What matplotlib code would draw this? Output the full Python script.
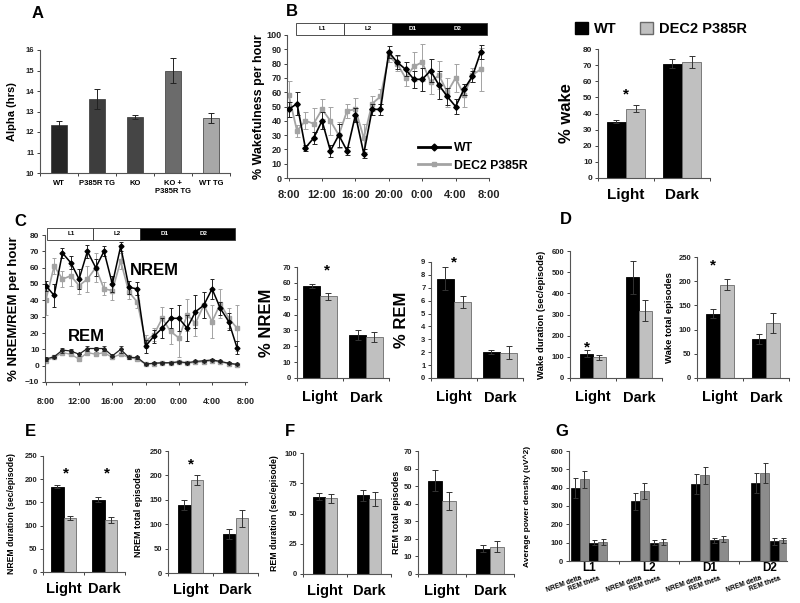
import numpy as np
import matplotlib
matplotlib.use('Agg')
import matplotlib.pyplot as plt
import matplotlib.transforms as mtransforms
from matplotlib.patches import Rectangle, Patch
from matplotlib.lines import Line2D

plt.rcParams['font.family'] = ['Liberation Sans', 'DejaVu Sans']
plt.rcParams['font.weight'] = 'bold'
plt.rcParams['axes.labelweight'] = 'bold'

# ---------------- data ----------------
genotypes = ['WT', 'P385R TG', 'KO', 'KO +\nP385R TG', 'WT TG']
alpha_hrs = [12.35, 13.6, 12.75, 15.0, 12.7]
alpha_err = [0.2, 0.5, 0.1, 0.6, 0.25]

hours = np.arange(24)
time_labels = ['8:00', '12:00', '16:00', '20:00', '0:00', '4:00', '8:00']
periods = ['Light', 'Dark']

wake_wt = [48, 52, 21, 28, 40, 19, 30, 19, 44, 17, 48, 48, 88, 81, 76, 69, 69, 75, 65, 57, 50, 62, 71, 88]
wake_wt_err = [5, 8, 2, 4, 6, 4, 8, 3, 5, 3, 4, 4, 4, 5, 5, 6, 8, 8, 10, 6, 5, 4, 4, 5]
wake_dec = [58, 33, 40, 38, 48, 40, 30, 47, 48, 28, 52, 57, 85, 80, 70, 78, 81, 67, 72, 60, 70, 58, 72, 76]
wake_dec_err = [10, 4, 6, 11, 7, 10, 9, 5, 8, 10, 5, 5, 4, 5, 6, 10, 13, 8, 10, 10, 10, 8, 5, 15]

nrem_wt = [49, 43, 69, 63, 53, 70, 60, 70, 50, 73, 48, 47, 12, 18, 23, 29, 29, 23, 33, 37, 47, 35, 27, 11]
nrem_wt_err = [3, 7, 3, 4, 6, 4, 5, 3, 5, 3, 4, 4, 4, 4, 6, 6, 8, 8, 10, 8, 6, 4, 5, 4]
nrem_dec = [40, 61, 53, 55, 49, 53, 60, 47, 46, 64, 45, 39, 15, 19, 29, 21, 17, 31, 26, 37, 27, 38, 29, 23]
nrem_dec_err = [9, 5, 5, 6, 5, 8, 9, 4, 6, 5, 4, 4, 4, 4, 7, 8, 12, 10, 8, 8, 10, 9, 6, 14]
rem_wt = [4, 5.5, 9.5, 9, 7, 10.5, 10.5, 10.5, 6, 10, 5, 5, 1, 1.5, 1.8, 1.8, 2.4, 1.8, 2.6, 3, 3.5, 2.6, 1.5, 0.8]
rem_wt_err = [1, 1, 1.5, 1, 1, 1.5, 1, 1.5, 1, 2, 1, 1, 0.5, 0.5, 0.5, 0.5, 0.5, 0.5, 0.5, 0.5, 0.5, 0.5, 0.5, 0.5]
rem_dec = [3, 5, 8, 7, 4, 8, 7, 8, 5, 7, 5, 4, 1, 1.3, 1.5, 1.6, 2, 1.5, 2, 2.5, 3, 2.2, 1.3, 0.6]
rem_dec_err = [1, 1, 1, 1, 1, 1, 1, 1, 1, 1, 1, 1, 0.5, 0.5, 0.5, 0.5, 0.5, 0.5, 0.5, 0.5, 0.5, 0.5, 0.5, 0.5]

pct_wake_wt, pct_wake_wt_err = [35, 71], [1, 3]
pct_wake_dec, pct_wake_dec_err = [43, 72], [2, 3.5]
pct_nrem_wt, pct_nrem_wt_err = [58, 27], [1, 3]
pct_nrem_dec, pct_nrem_dec_err = [51.5, 26], [2, 3]
pct_rem_wt, pct_rem_wt_err = [7.7, 2.0], [0.9, 0.15]
pct_rem_dec, pct_rem_dec_err = [5.9, 1.95], [0.5, 0.5]

wake_dur_wt, wake_dur_wt_err = [115, 475], [15, 80]
wake_dur_dec, wake_dur_dec_err = [97, 318], [10, 50]
wake_ep_wt, wake_ep_wt_err = [133, 80], [10, 10]
wake_ep_dec, wake_ep_dec_err = [193, 114], [12, 20]

nrem_dur_wt, nrem_dur_wt_err = [184, 156], [4, 6]
nrem_dur_dec, nrem_dur_dec_err = [117, 112], [4, 6]
nrem_ep_wt, nrem_ep_wt_err = [139, 80], [10, 11]
nrem_ep_dec, nrem_ep_dec_err = [190, 112], [10, 18]

rem_dur_wt, rem_dur_wt_err = [64, 65], [3, 4.5]
rem_dur_dec, rem_dur_dec_err = [62.5, 62], [3.5, 5.5]
rem_ep_wt, rem_ep_wt_err = [53, 14.5], [6, 2]
rem_ep_dec, rem_ep_dec_err = [41.5, 15.5], [5, 3]

phases = ['L1', 'L2', 'D1', 'D2']
delta_wt, delta_wt_err = [400, 325, 418, 427], [55, 45, 55, 55]
delta_dec, delta_dec_err = [445, 383, 467, 482], [45, 45, 45, 55]
theta_wt, theta_wt_err = [100, 100, 112, 108], [15, 15, 15, 18]
theta_dec, theta_dec_err = [103, 105, 120, 112], [15, 15, 18, 15]

# ---------------- style ----------------
W, H = 800, 603
GRAY = '#c0c0c0'
LGRAY = '#a3a3a3'
AXC = '#555555'

fig = plt.figure(figsize=(W / 100, H / 100), dpi=100)


def px_axes(l, t, r, b):
    ax = fig.add_axes([l / W, 1 - b / H, (r - l) / W, (b - t) / H])
    ax.px = (l, t, r, b)
    for s in ['top', 'right']:
        ax.spines[s].set_visible(False)
    for s in ['left', 'bottom']:
        ax.spines[s].set_color(AXC)
        ax.spines[s].set_linewidth(0.8)
    ax.tick_params(colors='#222222', length=2.5, width=0.6, pad=1.5)
    return ax


def ylabel_at(ax, text, xpx, size):
    l, t, r, b = ax.px
    ax.set_ylabel(text, fontsize=size)
    ax.yaxis.set_label_coords((xpx - l) / (r - l), 0.5)


def letter(x, y, s):
    fig.text(x / W, 1 - y / H, s, fontsize=12, fontweight='bold', ha='center', va='center')


def pair_panel(box, wt, wt_e, dec, dec_e, yticks, width, ylabel, ylx, ylsize,
               xlsize=10.5, xpad=7, ytsize=5.5, stars=()):
    ax = px_axes(*box)
    x = np.array([0.5, 1.5])
    ax.bar(x - width / 2, wt, width, color='black', edgecolor='black', lw=0.6)
    ax.bar(x + width / 2, dec, width, color=GRAY, edgecolor='#6a6a6a', lw=0.6)
    ax.errorbar(x - width / 2, wt, yerr=wt_e, fmt='none', ecolor='#333333',
                elinewidth=0.7, capsize=2, capthick=0.7)
    ax.errorbar(x + width / 2, dec, yerr=dec_e, fmt='none', ecolor='#333333',
                elinewidth=0.7, capsize=2, capthick=0.7)
    ax.set_xlim(0, 2)
    ax.set_ylim(yticks[0], yticks[-1])
    ax.set_yticks(yticks)
    ax.tick_params(axis='y', labelsize=ytsize)
    ax.set_xticks([0, 1, 2])
    ax.set_xticklabels([])
    ax.set_xticks(x, minor=True)
    ax.set_xticklabels(periods, minor=True, fontsize=xlsize)
    ax.tick_params(axis='x', which='minor', length=0, pad=xpad)
    ylabel_at(ax, ylabel, ylx, ylsize)
    for sx, sy in stars:
        ax.text(sx, sy, '*', ha='center', va='center', fontsize=11, fontweight='bold')
    return ax


def ld_bar(ax, spans, labels, y0, y1):
    tr = mtransforms.blended_transform_factory(ax.transData, ax.transAxes)
    colors = ['white', 'white', 'black']
    for (a, b), c in zip(spans, colors):
        ax.add_patch(Rectangle((a, y0), b - a, y1 - y0, transform=tr, facecolor=c,
                               edgecolor='#333333', lw=0.6, clip_on=False))
    for (xt, s), c in zip(labels, ['black', 'black', 'white', 'white']):
        ax.text(xt, (y0 + y1) / 2, s, transform=tr, fontsize=4.5, color=c,
                ha='center', va='center')


# ---------------- A ----------------
letter(38, 13, 'A')
axA = px_axes(40, 50, 230, 173)
xa = np.arange(len(genotypes)) + 0.5
axA.bar(xa, np.array(alpha_hrs) - 10, 0.42, bottom=10,
        color=['#262626', '#3d3d3d', '#454545', '#6b6b6b', '#a8a8a8'],
        edgecolor='#333333', lw=0.5)
axA.errorbar(xa, alpha_hrs, yerr=alpha_err, fmt='none', ecolor='#222222',
             elinewidth=0.7, capsize=2, capthick=0.7)
axA.set_xlim(0, 5)
axA.set_ylim(10, 16)
axA.set_yticks(np.arange(10, 17, 1))
axA.tick_params(axis='y', labelsize=5.5)
axA.set_xticks(np.arange(6))
axA.set_xticklabels([])
axA.set_xticks(xa, minor=True)
axA.set_xticklabels(genotypes, minor=True, fontsize=5.5)
axA.tick_params(axis='x', which='minor', length=0, pad=5)
ylabel_at(axA, 'Alpha (hrs)', 17, 8)

# ---------------- B line ----------------
letter(292, 12, 'B')
axB = px_axes(287, 35, 489, 178)
axB.errorbar(hours, wake_dec, yerr=wake_dec_err, color=LGRAY, marker='s', ms=3.2,
             lw=1.3, elinewidth=0.7, capsize=1.8, capthick=0.7, ecolor=LGRAY,
             label='DEC2 P385R', zorder=2)
axB.errorbar(hours, wake_wt, yerr=wake_wt_err, color='black', marker='D', ms=2.8,
             lw=1.2, elinewidth=0.7, capsize=1.8, capthick=0.7, ecolor='#222222',
             label='WT', zorder=3)
axB.set_xlim(-0.2, 24)
axB.set_ylim(0, 100)
axB.set_yticks(np.arange(0, 101, 10))
axB.set_xticks(np.arange(0, 25, 4))
axB.set_xticklabels(time_labels, fontsize=8)
axB.tick_params(axis='y', labelsize=6.5)
axB.tick_params(axis='x', pad=6)
ylabel_at(axB, '% Wakefulness per hour', 265, 9)
ld_bar(axB, [(0.9, 6.6), (6.6, 12.4), (12.4, 23.8)],
       [(4, 'L1'), (9.5, 'L2'), (14.8, 'D1'), (20.3, 'D2')], 1.0, 1.085)
hB = [Line2D([], [], color='black', marker='D', ms=3.5, lw=2),
      Line2D([], [], color=LGRAY, marker='s', ms=3.5, lw=2)]
fig.legend(hB, ['WT', 'DEC2 P385R'], loc='upper left',
           bbox_to_anchor=(412 / W, 1 - 136 / H), frameon=False,
           prop={'size': 8.8, 'weight': 'bold'}, handlelength=2.6,
           handletextpad=0.3, labelspacing=0.45, borderpad=0)

# ---------------- B bars ----------------
axBb = pair_panel((598, 49, 710, 178), pct_wake_wt, pct_wake_wt_err, pct_wake_dec,
                  pct_wake_dec_err, np.arange(0, 81, 10), 0.34, '% wake', 574, 12,
                  xlsize=11, xpad=7, ytsize=6, stars=[(0.5, 52)])
hL = [Patch(facecolor='black', edgecolor='black'),
      Patch(facecolor=GRAY, edgecolor='#6a6a6a')]
fig.legend(hL, ['WT', 'DEC2 P385R'], loc='center', ncol=2,
           bbox_to_anchor=(661 / W, 1 - 29 / H), frameon=False,
           prop={'size': 10.5, 'weight': 'bold'}, handlelength=0.9, handleheight=0.9,
           handletextpad=0.4, columnspacing=1.6)

# ---------------- C line ----------------
letter(20, 222, 'C')
axC = px_axes(45, 235, 247, 382)
axC.errorbar(hours, nrem_dec, yerr=nrem_dec_err, color=LGRAY, marker='s', ms=2.8,
             lw=1.2, elinewidth=0.7, capsize=1.6, capthick=0.7, ecolor=LGRAY, zorder=2)
axC.errorbar(hours, rem_dec, yerr=rem_dec_err, color=LGRAY, marker='s', ms=2.2,
             lw=1.0, elinewidth=0.6, capsize=1.4, capthick=0.6, ecolor=LGRAY, zorder=2)
axC.errorbar(hours, nrem_wt, yerr=nrem_wt_err, color='black', marker='D', ms=2.5,
             lw=1.1, elinewidth=0.7, capsize=1.6, capthick=0.7, ecolor='#222222', zorder=3)
axC.errorbar(hours, rem_wt, yerr=rem_wt_err, color='#222222', marker='D', ms=2.0,
             lw=0.9, elinewidth=0.6, capsize=1.4, capthick=0.6, ecolor='#222222', zorder=3)
axC.text(10.1, 58, 'NREM', fontsize=12, fontweight='bold', ha='left', va='center')
axC.text(4.9, 18, 'REM', fontsize=12, fontweight='bold', ha='center', va='center')
axC.set_xlim(-0.1, 24.2)
axC.set_ylim(-10, 80)
axC.set_yticks(np.arange(-10, 81, 10))
axC.set_xticks(np.arange(0, 25, 4))
axC.set_xticklabels(time_labels, fontsize=6.5)
axC.tick_params(axis='y', labelsize=6)
axC.tick_params(axis='x', pad=8)
ylabel_at(axC, '% NREM/REM per hour', 20, 9.5)
ld_bar(axC, [(0.1, 5.7), (5.7, 11.3), (11.3, 22.8)],
       [(3, 'L1'), (8.6, 'L2'), (14.3, 'D1'), (19, 'D2')], 0.965, 1.05)

# ---------------- C bars ----------------
pair_panel((297, 267, 389, 378), pct_nrem_wt, pct_nrem_wt_err, pct_nrem_dec,
           pct_nrem_dec_err, np.arange(0, 71, 10), 0.36, '% NREM', 274, 12,
           xpad=9, stars=[(0.65, 68)])
pair_panel((431, 262, 523, 378), pct_rem_wt, pct_rem_wt_err, pct_rem_dec,
           pct_rem_dec_err, np.arange(0, 10, 1), 0.38, '% REM', 409, 12,
           xpad=9, stars=[(0.5, 9.0)])

# ---------------- D ----------------
letter(566, 220, 'D')
pair_panel((570, 251, 662, 378), wake_dur_wt, wake_dur_wt_err, wake_dur_dec,
           wake_dur_dec_err, np.arange(0, 601, 100), 0.28,
           'Wake duration (sec/episode)', 546, 6.8, xpad=9, stars=[(0.36, 145)])
pair_panel((697, 257, 789, 378), wake_ep_wt, wake_ep_wt_err, wake_ep_dec,
           wake_ep_dec_err, np.arange(0, 251, 50), 0.30,
           'Wake total episodes', 674, 6.8, xpad=9, stars=[(0.35, 232)])

# ---------------- E ----------------
letter(30, 432, 'E')
pair_panel((43, 456, 125, 572), nrem_dur_wt, nrem_dur_wt_err, nrem_dur_dec,
           nrem_dur_dec_err, np.arange(0, 251, 50), 0.30,
           'NREM duration (sec/episode)', 16, 6.2, stars=[(0.55, 213), (1.55, 213)])
pair_panel((168, 451, 258, 573), nrem_ep_wt, nrem_ep_wt_err, nrem_ep_dec,
           nrem_ep_dec_err, np.arange(0, 251, 50), 0.28,
           'NREM total episodes', 143, 6.5, stars=[(0.5, 223)])

# ---------------- F ----------------
letter(290, 432, 'F')
pair_panel((303, 453, 391, 574), rem_dur_wt, rem_dur_wt_err, rem_dur_dec,
           rem_dur_dec_err, np.arange(0, 101, 25), 0.28,
           'REM duration (sec/episode)', 279, 6.3)
pair_panel((418, 451, 514, 574), rem_ep_wt, rem_ep_wt_err, rem_ep_dec,
           rem_ep_dec_err, np.arange(0, 71, 10), 0.30,
           'REM total episodes', 401, 6.5)

# ---------------- G ----------------
letter(562, 432, 'G')
axG = px_axes(569, 451, 787, 561)
xg = np.arange(len(phases))
bw = 0.145
axG.bar(xg - 0.23, delta_wt, bw, color='black', edgecolor='black', lw=0.5)
axG.bar(xg - 0.08, delta_dec, bw, color='#8c8c8c', edgecolor='#555555', lw=0.5)
axG.bar(xg + 0.08, theta_wt, bw, color='black', edgecolor='black', lw=0.5)
axG.bar(xg + 0.23, theta_dec, bw, color='#8c8c8c', edgecolor='#555555', lw=0.5)
for off, v, e in [(-0.23, delta_wt, delta_wt_err), (-0.08, delta_dec, delta_dec_err),
                  (0.08, theta_wt, theta_wt_err), (0.23, theta_dec, theta_dec_err)]:
    axG.errorbar(xg + off, v, yerr=e, fmt='none', ecolor='#333333',
                 elinewidth=0.7, capsize=1.8, capthick=0.7)
axG.set_xlim(-0.332, 3.289)
axG.set_ylim(0, 600)
axG.set_yticks(np.arange(0, 601, 100))
axG.tick_params(axis='y', labelsize=5.5)
axG.set_xticks([0.5, 1.5, 2.5])
axG.set_xticklabels([])
axG.set_xticks(xg, minor=True)
axG.set_xticklabels(phases, minor=True, fontsize=8.5)
axG.tick_params(axis='x', which='minor', length=0, pad=1)
ylabel_at(axG, 'Average power density (uV^2)', 531, 6)
for g in xg:
    axG.text(g - 0.15, -75, 'NREM delta', fontsize=4.8, rotation=20, ha='right',
             va='top', rotation_mode='anchor')
    axG.text(g + 0.16, -75, 'REM theta', fontsize=4.8, rotation=20, ha='right',
             va='top', rotation_mode='anchor')

fig.savefig('out.png', dpi=100)
